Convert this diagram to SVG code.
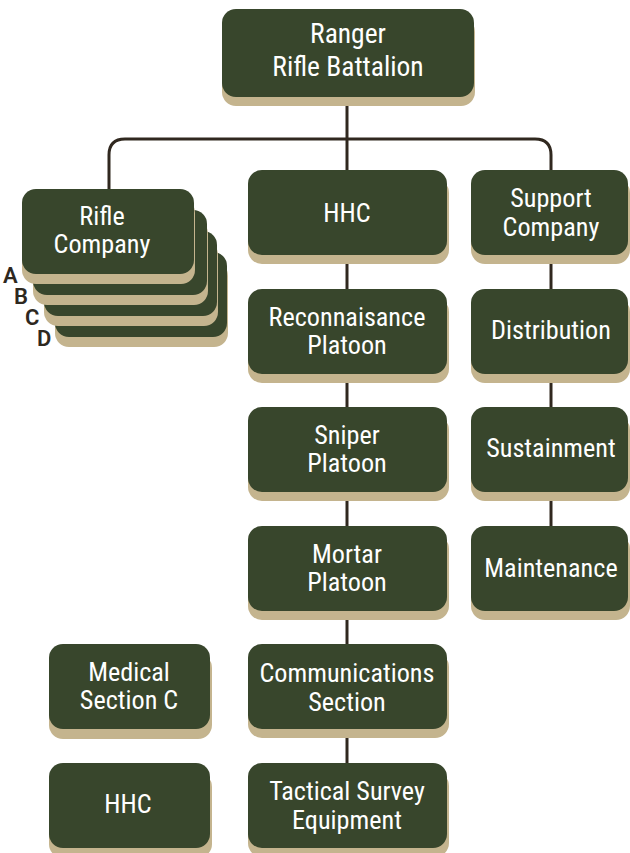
<svg xmlns="http://www.w3.org/2000/svg" width="630" height="853" viewBox="0 0 630 853">
<style>
.box{fill:#38462c}
.sh{fill:#c4b48e}
.t{fill:#ffffff;font-family:Roboto,"Liberation Sans",sans-serif;font-size:26.2px;font-weight:450;font-stretch:80%;text-anchor:middle}
.big{font-size:27.5px}
.lbl{fill:#2e281f;font-family:Roboto,"Liberation Sans",sans-serif;font-size:22px;font-weight:600;font-stretch:90%}
.ln{fill:none;stroke:#30281f;stroke-width:3}
</style>
<rect width="630" height="853" fill="#ffffff"/>
<g id="connectors" class="ln">
<path d="M347 106 V170"/>
<path d="M109 189 V155 Q109 139 125 139 H535 Q551 139 551 155 V170"/>
<path d="M347 264 V289"/>
<path d="M347 383 V407"/>
<path d="M347 501 V526"/>
<path d="M347 620 V644"/>
<path d="M347 738 V763"/>
<path d="M551 264 V289"/>
<path d="M551 383 V407"/>
<path d="M551 501 V526"/>
</g>
<g id="battalion">
<rect class="sh" x="222" y="18" width="253" height="88" rx="14"/>
<rect class="box" x="222" y="9" width="252" height="88" rx="14"/>
<text class="t big" x="348" y="43">Ranger</text>
<text class="t big" x="348" y="76">Rifle Battalion</text>
</g>
<g id="rifle-company">
<rect class="sh" x="55" y="262" width="173" height="85" rx="14"/>
<rect class="box" x="55" y="252" width="172" height="85" rx="14"/>
<rect class="sh" x="44" y="241" width="174" height="85" rx="14"/>
<rect class="box" x="44" y="231" width="173" height="85" rx="14"/>
<rect class="sh" x="33" y="220" width="175" height="85" rx="14"/>
<rect class="box" x="33" y="210" width="174" height="85" rx="14"/>
<rect class="sh" x="22" y="199" width="173" height="85" rx="14"/>
<rect class="box" x="22" y="189" width="172" height="85" rx="14"/>
<text class="t" x="102" y="225">Rifle</text>
<text class="t" x="102" y="253">Company</text>
<text class="lbl" x="3" y="283">A</text>
<text class="lbl" x="14" y="304">B</text>
<text class="lbl" x="25" y="325">C</text>
<text class="lbl" x="37" y="346">D</text>
</g>
<g id="hhc">
<rect class="sh" x="248" y="179" width="201" height="85" rx="14"/>
<rect class="box" x="248" y="170" width="199" height="85" rx="14"/>
<text class="t" x="347" y="222">HHC</text>
</g>
<g id="recon">
<rect class="sh" x="248" y="298" width="201" height="85" rx="14"/>
<rect class="box" x="248" y="289" width="199" height="85" rx="14"/>
<text class="t" x="347" y="326">Reconnaisance</text>
<text class="t" x="347" y="354">Platoon</text>
</g>
<g id="sniper">
<rect class="sh" x="248" y="416" width="201" height="85" rx="14"/>
<rect class="box" x="248" y="407" width="199" height="85" rx="14"/>
<text class="t" x="347" y="444">Sniper</text>
<text class="t" x="347" y="472">Platoon</text>
</g>
<g id="mortar">
<rect class="sh" x="248" y="535" width="201" height="85" rx="14"/>
<rect class="box" x="248" y="526" width="199" height="85" rx="14"/>
<text class="t" x="347" y="563">Mortar</text>
<text class="t" x="347" y="591">Platoon</text>
</g>
<g id="communications">
<rect class="sh" x="248" y="653" width="201" height="85" rx="14"/>
<rect class="box" x="248" y="644" width="199" height="85" rx="14"/>
<text class="t" x="347" y="682">Communications</text>
<text class="t" x="347" y="711">Section</text>
</g>
<g id="tactical-survey">
<rect class="sh" x="248" y="772" width="201" height="85" rx="14"/>
<rect class="box" x="248" y="763" width="199" height="85" rx="14"/>
<text class="t" x="347" y="800">Tactical Survey</text>
<text class="t" x="347" y="829">Equipment</text>
</g>
<g id="support-company">
<rect class="sh" x="471" y="179" width="159" height="85" rx="14"/>
<rect class="box" x="471" y="170" width="157" height="85" rx="14"/>
<text class="t" x="551" y="207">Support</text>
<text class="t" x="551" y="236">Company</text>
</g>
<g id="distribution">
<rect class="sh" x="471" y="298" width="159" height="85" rx="14"/>
<rect class="box" x="471" y="289" width="157" height="85" rx="14"/>
<text class="t" x="551" y="339">Distribution</text>
</g>
<g id="sustainment">
<rect class="sh" x="471" y="416" width="159" height="85" rx="14"/>
<rect class="box" x="471" y="407" width="157" height="85" rx="14"/>
<text class="t" x="551" y="457">Sustainment</text>
</g>
<g id="maintenance">
<rect class="sh" x="471" y="535" width="159" height="85" rx="14"/>
<rect class="box" x="471" y="526" width="157" height="85" rx="14"/>
<text class="t" x="551" y="577">Maintenance</text>
</g>
<g id="medical-section">
<rect class="sh" x="49" y="654" width="163" height="85" rx="14"/>
<rect class="box" x="49" y="644" width="161" height="85" rx="14"/>
<text class="t" x="129" y="681">Medical</text>
<text class="t" x="129" y="709">Section C</text>
</g>
<g id="hhc-2">
<rect class="sh" x="49" y="773" width="163" height="85" rx="14"/>
<rect class="box" x="49" y="763" width="161" height="85" rx="14"/>
<text class="t" x="128" y="813">HHC</text>
</g>
</svg>
